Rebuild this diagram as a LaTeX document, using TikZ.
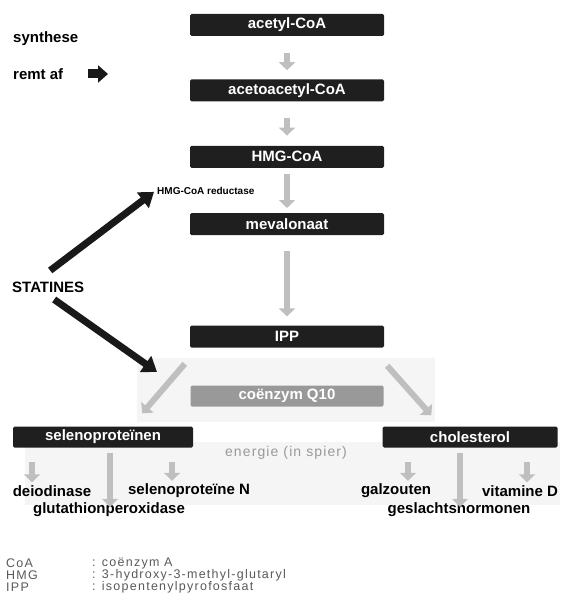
\documentclass[tikz,border=0pt]{standalone}
\usepackage{fontspec}
\setmainfont{Liberation Sans}
\usepackage{tikz}
\usetikzlibrary{
    positioning,
    arrows.meta,
    calc
}
\tikzset{
  stap/.style = {
      fill=black!88,
      rounded corners=1.5pt,
      minimum width=194pt,
      minimum height=22pt,
      inner sep=0pt,
      text=white,
      font=\fontsize{15}{17}\selectfont\bfseries
  },
  q10box/.style = {
      stap,
      fill=black!40,
      minimum width=193pt,
      minimum height=21pt
  },
  eindbox/.style = {
      stap,
      minimum height=21pt
  },
  product/.style = {
      font=\fontsize{15}{17}\selectfont\bfseries,
      inner sep=1pt
  },
  zijtekst/.style = {
      product,
      anchor=west,
      inner sep=0pt
  },
  enzym/.style = {
      font=\fontsize{10}{12}\selectfont\bfseries,
      anchor=west,
      inner sep=0pt
  },
  legenda/.style = {
      font=\fontsize{12.5}{13}\selectfont\addfontfeature{LetterSpace=10},
      text=black!65,
      anchor=west,
      inner sep=0pt
  },
  omzetting/.style = {
      draw=black!25,
      line width=6pt,
      -{Triangle[width=16pt,length=8pt]}
  },
  remming/.style = {
      draw=black!90,
      line width=7pt,
      -{Triangle[width=19pt,length=14pt]}
  },
  paneel/.style = {
      fill=black!4,
      draw=none
  }
}
\begin{document}
\begin{tikzpicture}[x=1pt, y=-1pt]
    \useasboundingbox (0,0) rectangle (567,604);
    % Panels
    \fill[paneel] (137,358) rectangle (435,422);
    \fill[paneel] (25,442) rectangle (560,505);
    % Nodes
    \node[stap] (acetyl) at (287,25) {acetyl-CoA};
    \node[stap, below=43pt of acetyl] (acetoacetyl) {acetoacetyl-CoA};
    \node[stap, below=44pt of acetoacetyl] (hmg) {HMG-CoA};
    \node[stap, below=45pt of hmg] (mevalonaat) {mevalonaat};
    \node[stap, below=90pt of mevalonaat] (ipp) {IPP};
    \node[q10box] (q10) at (287,396) {coënzym Q10};
    \node[eindbox, minimum width=180pt] (seleno) at (103,437) {selenoproteïnen};
    \node[eindbox, minimum width=175pt] (chol) at (470,437) {cholesterol};
    \node[zijtekst] (synthese) at (13,39) {synthese};
    \node[zijtekst] (remt) at (13,74) {remt af};
    \coordinate (remtpijl) at (108,74);
    \node[enzym] (reductase) at (157,191) {HMG-CoA reductase};
    \node[zijtekst] (statines) at (12,287) {STATINES};
    \coordinate (blokkade) at (157,372);
    \node[font=\fontsize{14}{16}\selectfont\addfontfeature{LetterSpace=8}, text=black!40] (energie) at (286,453) {energie (in spier)};
    \node[product] (deiodinase) at (52,491) {deiodinase};
    \node[product] (selenoN) at (189,491) {selenoproteïne N};
    \node[product] (glutathion) at (109,510) {glutathionperoxidase};
    \node[product] (galzouten) at (396,491) {galzouten};
    \node[product] (vitamineD) at (520,491) {vitamine D};
    \node[product] (geslacht) at (459,510) {geslachtshormonen};
    % Legend
    \node[legenda] (afkCoA) at (6,563) {CoA};
    \node[legenda] (afkHMG) at (6,575) {HMG};
    \node[legenda] (afkIPP) at (6,587) {IPP};
    \node[legenda] (uitlCoA) at (92,563) {: coënzym A};
    \node[legenda] (uitlHMG) at (92,575) {: 3-hydroxy-3-methyl-glutaryl};
    \node[legenda] (uitlIPP) at (92,587) {: isopentenylpyrofosfaat};
    % Edges
    \path
    (acetyl.south) edge[omzetting, shorten <=17pt, shorten >=9pt] (acetoacetyl.north)
    (acetoacetyl.south) edge[omzetting, shorten <=16pt, shorten >=10pt] (hmg.north)
    (hmg.south) edge[omzetting, shorten <=6pt, shorten >=5pt] (mevalonaat.north)
    (mevalonaat.south) edge[omzetting, shorten <=16pt, shorten >=9pt] (ipp.north)
    ([shift={(-5,16)}]ipp.south west) edge[omzetting] ([shift={(-51,-13)}]seleno.north east)
    ([shift={(3,18)}]ipp.south east) edge[omzetting] ([shift={(49,-11)}]chol.north west)
    ([xshift=-71pt]seleno.south) edge[omzetting, shorten <=14pt, shorten >=2pt] ([xshift=-71pt]seleno.south |- deiodinase.north)
    ([xshift=69pt]seleno.south) edge[omzetting, shorten <=14pt, shorten >=2pt] ([xshift=69pt]seleno.south |- selenoN.north)
    ([xshift=7pt]seleno.south) edge[omzetting, shorten <=5pt, shorten >=-5pt] ([xshift=7pt]seleno.south |- glutathion.north)
    ([xshift=-62pt]chol.south) edge[omzetting, shorten <=14pt, shorten >=2pt] ([xshift=-62pt]chol.south |- galzouten.north)
    ([xshift=57pt]chol.south) edge[omzetting, shorten <=14pt, shorten >=2pt] ([xshift=57pt]chol.south |- vitamineD.north)
    ([xshift=-10pt]chol.south) edge[omzetting, shorten <=5pt, shorten >=-5pt] ([xshift=-10pt]chol.south |- geslacht.north);
    \draw[remming, line width=9pt, -{Triangle[width=17pt,length=10pt]}]
    ([xshift=25pt]remt.east) -- (remtpijl);
    \path
    ([shift={(2,-11)}]statines.north) edge[remming] ([shift={(-3,-3)}]reductase.south west)
    ([shift={(6,7)}]statines.south) edge[remming] (blokkade);
\end{tikzpicture}
\end{document}
